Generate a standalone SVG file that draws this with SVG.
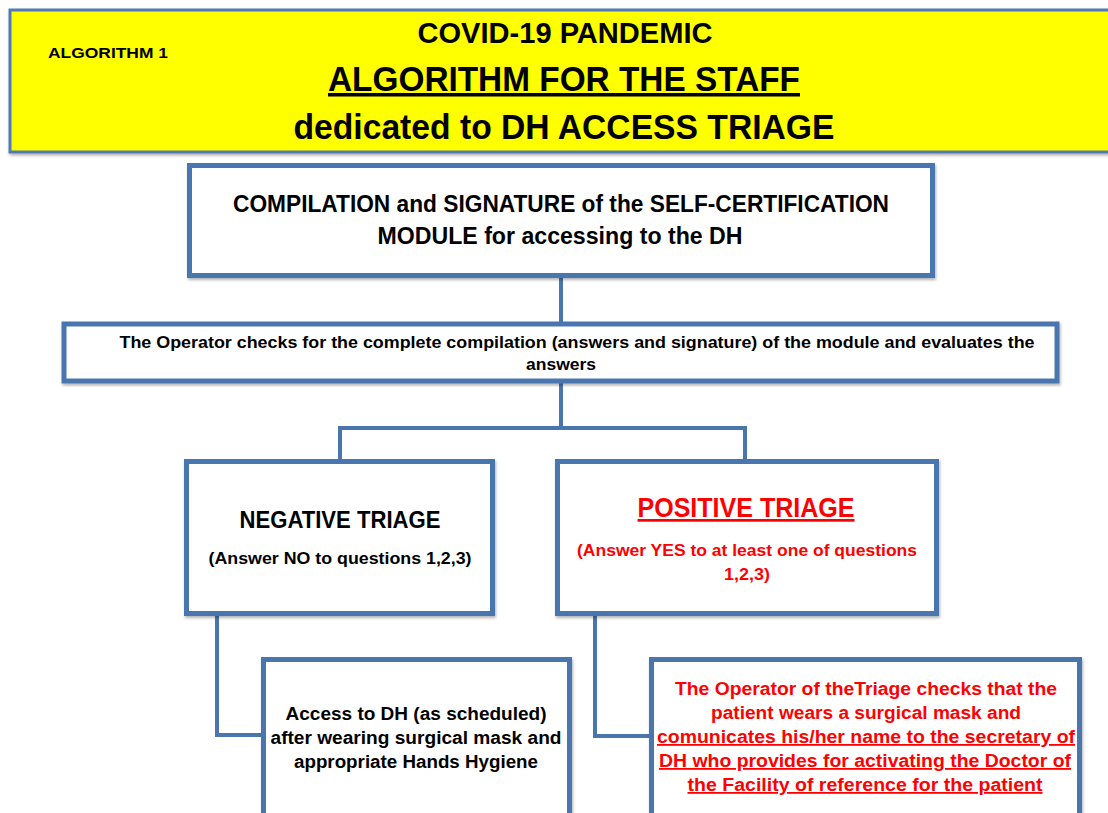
<svg xmlns="http://www.w3.org/2000/svg" width="1108" height="813" viewBox="0 0 1108 813">
<defs>
<filter id="sh" x="-5%" y="-5%" width="110%" height="115%"><feDropShadow dx="1" dy="2" stdDeviation="1.5" flood-color="#000" flood-opacity="0.3"/></filter>
</defs>
<style>
.box{fill:#fff;stroke:#4a76ae;stroke-width:5;filter:url(#sh)}
.con{fill:none;stroke:#4a76ae;stroke-width:4}
text{font-family:"Liberation Sans",Arial,sans-serif;font-weight:bold;text-anchor:middle;fill:#000}
.red{fill:#f00}
.u{text-decoration:underline}
</style>
<rect width="1108" height="813" fill="#fff"/>
<g id="header">
<rect x="10" y="10" width="1110" height="142" fill="#ffff00" stroke="#4f7ab3" stroke-width="3" filter="url(#sh)"/>
<text x="108" y="58" font-size="15" textLength="120" lengthAdjust="spacingAndGlyphs">ALGORITHM 1</text>
<text x="565" y="43" font-size="29" textLength="295" lengthAdjust="spacingAndGlyphs">COVID-19 PANDEMIC</text>
<text x="564" y="91" font-size="35" textLength="472" lengthAdjust="spacingAndGlyphs" class="u">ALGORITHM FOR THE STAFF</text>
<text x="564" y="139" font-size="35" textLength="541" lengthAdjust="spacingAndGlyphs">dedicated to DH ACCESS TRIAGE</text>
</g>
<g id="connectors">
<path class="con" d="M561 278V322"/>
<path class="con" d="M561 383V428M340 459V428H745V459"/>
<path class="con" d="M217 616V735H262"/>
<path class="con" d="M595 616V736H650"/>
</g>
<g id="compilation">
<rect class="box" x="189.5" y="165.5" width="743" height="110"/>
<text x="561" y="212" font-size="23" textLength="656" lengthAdjust="spacingAndGlyphs">COMPILATION and SIGNATURE of the SELF-CERTIFICATION</text>
<text x="560" y="244" font-size="23" textLength="365" lengthAdjust="spacingAndGlyphs">MODULE for accessing to the DH</text>
</g>
<g id="operator-check">
<rect class="box" x="64" y="324" width="993" height="57" stroke-width="4"/>
<text x="577" y="348" font-size="16.5" textLength="915" lengthAdjust="spacingAndGlyphs">The Operator checks for the complete compilation (answers and signature) of the module and evaluates the</text>
<text x="561" y="370" font-size="16.5" textLength="70" lengthAdjust="spacingAndGlyphs">answers</text>
</g>
<g id="negative">
<rect class="box" x="186.5" y="461.5" width="306" height="152"/>
<text x="340" y="528" font-size="23" textLength="201" lengthAdjust="spacingAndGlyphs">NEGATIVE TRIAGE</text>
<text x="340" y="564" font-size="17" textLength="263" lengthAdjust="spacingAndGlyphs">(Answer NO to questions 1,2,3)</text>
</g>
<g id="positive">
<rect class="box" x="557.5" y="461.5" width="379" height="152"/>
<text x="746" y="517" font-size="27" textLength="217" lengthAdjust="spacingAndGlyphs" class="red u">POSITIVE TRIAGE</text>
<text x="747" y="556" font-size="17" textLength="340" lengthAdjust="spacingAndGlyphs" class="red">(Answer YES to at least one of questions</text>
<text x="747" y="580" font-size="17" textLength="46" lengthAdjust="spacingAndGlyphs" class="red">1,2,3)</text>
</g>
<g id="access">
<rect class="box" x="263.5" y="659.5" width="306" height="170"/>
<text x="416" y="720" font-size="18" textLength="261" lengthAdjust="spacingAndGlyphs">Access to DH  (as scheduled)</text>
<text x="416" y="744" font-size="18" textLength="291" lengthAdjust="spacingAndGlyphs">after wearing surgical mask and</text>
<text x="416" y="768" font-size="18" textLength="244" lengthAdjust="spacingAndGlyphs">appropriate Hands Hygiene</text>
</g>
<g id="secretary">
<rect class="box" x="651.5" y="659.5" width="428" height="170"/>
<text x="866" y="695" font-size="18" textLength="382" lengthAdjust="spacingAndGlyphs" class="red">The Operator of theTriage checks that the</text>
<text x="866" y="719" font-size="18" textLength="310" lengthAdjust="spacingAndGlyphs" class="red">patient wears a surgical mask and</text>
<text x="866" y="743" font-size="18" textLength="418" lengthAdjust="spacingAndGlyphs" class="red u">comunicates his/her name to the secretary of</text>
<text x="865" y="767" font-size="18" textLength="412" lengthAdjust="spacingAndGlyphs" class="red u">DH who provides for activating the Doctor of</text>
<text x="865" y="791" font-size="18" textLength="355" lengthAdjust="spacingAndGlyphs" class="red u">the Facility of reference for the patient</text>
</g>
</svg>
